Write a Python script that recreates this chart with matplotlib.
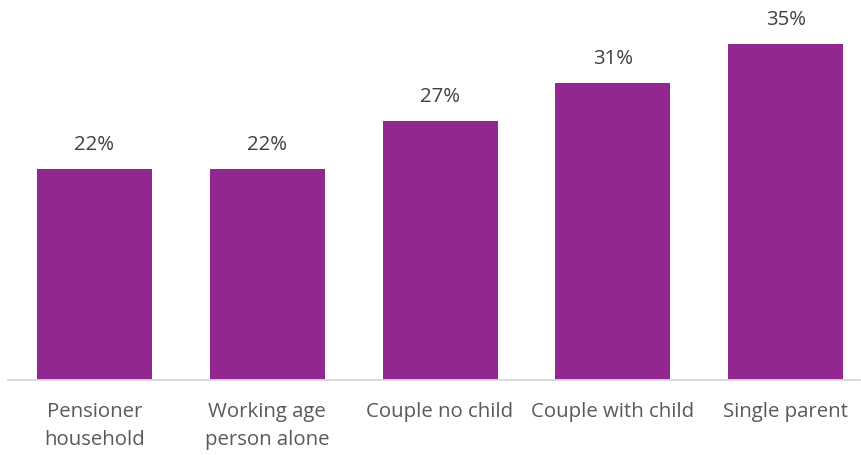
import matplotlib.pyplot as plt

categories = ["Pensioner\nhousehold", "Working age\nperson alone", "Couple no child",
              "Couple with child", "Single parent"]
values = [22, 22, 27, 31, 35]
labels = ["22%", "22%", "27%", "31%", "35%"]

plt.rcParams["font.family"] = ["Open Sans", "DejaVu Sans"]

fig = plt.figure(figsize=(8.61, 4.55), dpi=100)
ax = fig.add_axes([8 / 861, 75 / 455, 852 / 861, 380 / 455])

x = range(len(categories))
bars = ax.bar(x, values, width=0.665, color="#92278F")

for i, v in enumerate(values):
    ax.text(i, v + 2.5, labels[i], ha="center", va="center", fontsize=14.7, color="#404040")

ax.set_xlim(-0.5, 4.43)
ax.set_ylim(0, 39.6)
ax.set_xticks(list(x))
ax.set_xticklabels(categories, fontsize=14.7, color="#595959", linespacing=1.5, va="top")
ax.tick_params(axis="x", length=0, pad=16)
ax.set_yticks([])

for s in ["top", "right", "left"]:
    ax.spines[s].set_visible(False)
ax.spines["bottom"].set_color("#d9d9d9")
ax.spines["bottom"].set_linewidth(1.3)

fig.savefig("out.png", dpi=100)
plt.close()
